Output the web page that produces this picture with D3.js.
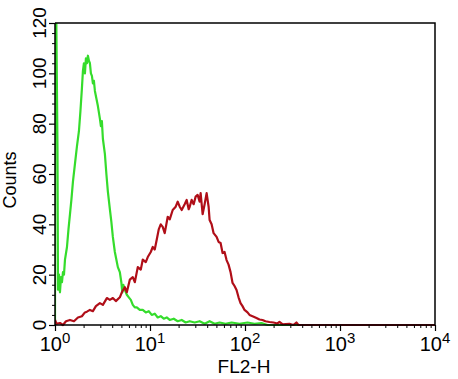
<!DOCTYPE html>
<html>
<head>
<meta charset="utf-8">
<script src="https://cdn.jsdelivr.net/npm/d3@7/dist/d3.min.js"></script>
<style>
  html, body { margin: 0; padding: 0; background: #fff; }
  svg { display: block; }
  text { font-family: "Liberation Sans", Arial, sans-serif; fill: #000; }
</style>
</head>
<body>
<svg id="chart" width="458" height="379"></svg>
<script>
// ---------- data ----------
const xTickDecades = [0, 1, 2, 3, 4];
const yTickLabels = ["0", "20", "40", "60", "80", "100", "120"];
const xLabel = "FL2-H";
const yLabel = "Counts";

// Green histogram (control)
const greenX = [1.000, 1.005, 1.030, 1.062, 1.075, 1.102, 1.128, 1.156, 1.184, 1.213, 1.243, 1.274,
  1.337, 1.386, 1.437, 1.490, 1.545, 1.622, 1.702, 1.786, 1.852, 1.920, 1.968, 2.016, 2.065, 2.116,
  2.168, 2.221, 2.275, 2.331, 2.388, 2.447, 2.506, 2.568, 2.630, 2.727, 2.828, 2.968, 3.041, 3.115,
  3.192, 3.350, 3.474, 3.602, 3.780, 3.920, 4.064, 4.266, 4.423, 4.587, 4.814, 4.991, 5.113, 5.239,
  5.433, 5.702, 5.984, 6.281, 6.592, 6.918, 7.261, 7.806, 8.395, 9.027, 9.705, 10.43, 11.22, 12.06,
  12.97, 13.95, 15.00, 16.13, 17.77, 19.57, 21.56, 23.74, 26.16, 29.51, 33.31, 37.58, 42.42, 47.86,
  54.01, 62.44, 72.20, 87.60, 106.3, 125.8, 149.1, 172.4, 10000];
const greenY = [0, 125, 125, 70, 14, 20, 13, 19, 17, 21, 20, 26,
  31, 38, 44, 50, 57, 64, 71, 77, 85, 94, 101, 104, 100, 106,
  104, 107, 105, 104, 100, 99, 96, 97, 93, 90, 87, 82, 79, 81,
  74, 68, 60, 53, 46, 41, 35, 29, 26, 23, 21, 17, 13, 16,
  14, 12, 11, 10, 8, 7, 7, 6, 6, 5, 5.5, 4, 4.5, 3,
  3.5, 2.5, 3, 2, 2.5, 1.5, 2, 1, 1.5, 1, 1.5, 0.5, 1.5, 0.5,
  1, 0.5, 1, 0.5, 1, 0.5, 0.8, 0, 0];

// Red histogram (stained)
const redX = [1.000, 1.037, 1.128, 1.213, 1.305, 1.437, 1.583, 1.744, 1.920, 2.065, 2.168, 2.331,
  2.506, 2.695, 2.968, 3.192, 3.516, 3.780, 4.064, 4.370, 4.814, 5.052, 5.433, 5.702, 6.130,
  6.592, 6.918, 7.437, 7.998, 8.395, 9.027, 9.474, 10.19, 10.69, 11.22, 11.78, 12.36, 12.97,
  13.61, 14.29, 15.37, 16.13, 17.34, 18.65, 19.57, 20.54, 21.56, 23.17, 24.32, 25.53, 26.16,
  27.45, 28.81, 30.24, 31.73, 33.31, 34.12, 35.81, 37.58, 39.45, 41.40, 42.42, 44.52, 46.72,
  50.23, 52.72, 55.34, 58.08, 60.95, 63.97, 67.14, 70.47, 73.96, 77.62, 81.47, 85.51, 89.74,
  94.19, 98.86, 106.3, 111.6, 120.0, 132.1, 142.1, 152.8, 164.2, 180.9, 199.3, 219.6, 230.5,
  247.7, 293.4, 323.3, 347.5, 364.8, 10000];
const redY = [2, 0.5, 0.8, 0, 1.5, 2, 1.5, 3, 3.5, 5, 5.3, 6,
  5.5, 7.5, 8.7, 8, 10.7, 10, 10.7, 9.5, 11, 13, 15, 13, 18,
  19, 17, 23, 22, 26, 25, 27, 29, 31, 30, 34, 38, 40,
  39, 36.5, 43, 42, 45.7, 47, 49, 47, 45.7, 48, 49.7, 46, 47,
  49.7, 48, 51, 51.7, 49, 52.4, 44, 48, 52.4, 47, 41.7, 40, 36.5,
  35, 33, 32.6, 28.6, 29, 25.8, 24, 21, 16.7, 15.5, 13.9, 11, 8.7,
  7.5, 6, 5, 4, 3.5, 2.8, 2.2, 2, 1.5, 1.2, 1, 0.6, 1.2,
  0.3, 0.5, 0, 1, 0, 0];

// ---------- layout ----------
const svg = d3.select("#chart");
const L = 55, R = 435, T = 23, B = 325;

const x = d3.scaleLog().domain([1, 10000]).range([L, R]);
const y = d3.scaleLinear().domain([0, 120]).range([B, T]);

// clip for curves
svg.append("defs").append("clipPath").attr("id", "plotclip")
  .append("rect").attr("x", L).attr("y", T).attr("width", R - L).attr("height", B - T + 2);

const line = d3.line().x(d => x(d[0])).y(d => y(d[1]));

const gCurves = svg.append("g").attr("clip-path", "url(#plotclip)");
gCurves.append("path")
  .datum(greenX.map((v, i) => [v, greenY[i]]))
  .attr("d", line).attr("fill", "none")
  .attr("stroke", "#35dc2c").attr("stroke-width", 2.2).attr("stroke-linejoin", "round");
gCurves.append("path")
  .datum(redX.map((v, i) => [v, redY[i]]))
  .attr("d", line).attr("fill", "none")
  .attr("stroke", "#b00e18").attr("stroke-width", 2.2).attr("stroke-linejoin", "round");

// frame (top and right)
svg.append("path")
  .attr("d", `M${L},${T}H${R}V${B}`)
  .attr("fill", "none").attr("stroke", "#000").attr("stroke-width", 1.5);

// ---------- y axis ----------
const yMinor = d3.range(0, 121, 4).filter(v => v % 20 !== 0);
const yAxis = d3.axisLeft(y).tickValues(yTickLabels.map(Number)).tickSize(6).tickFormat("");
const gy = svg.append("g").attr("transform", `translate(${L},0)`).call(yAxis);
gy.select(".domain").attr("stroke-width", 1.5).attr("d", `M0,${T}V${B}`);
gy.selectAll(".tick line").attr("stroke-width", 1.2);
const gyMinor = svg.append("g").attr("transform", `translate(${L},0)`)
  .call(d3.axisLeft(y).tickValues(yMinor).tickSize(3).tickFormat(""));
gyMinor.select(".domain").remove();
gyMinor.selectAll(".tick line").attr("stroke-width", 1);

// y tick labels (rotated)
yTickLabels.forEach(t => {
  const yy = Math.max(y(+t), 19);
  svg.append("text")
    .attr("transform", `translate(46,${yy}) rotate(-90)`)
    .attr("text-anchor", "middle")
    .attr("font-size", 19)
    .text(t);
});

// ---------- x axis ----------
const xMajor = xTickDecades.map(d => Math.pow(10, d));
const xMinor = [];
xTickDecades.slice(0, -1).forEach(d => {
  for (let k = 2; k <= 9; k++) xMinor.push(k * Math.pow(10, d));
});
const gx = svg.append("g").attr("transform", `translate(0,${B})`)
  .call(d3.axisBottom(x).tickValues(xMajor).tickSize(6).tickFormat(""));
gx.select(".domain").attr("stroke-width", 1.5).attr("d", `M${L},0H${R}`);
gx.selectAll(".tick line").attr("stroke-width", 1.2);
const gxMinor = svg.append("g").attr("transform", `translate(0,${B})`)
  .call(d3.axisBottom(x).tickValues(xMinor).tickSize(3).tickFormat(""));
gxMinor.select(".domain").remove();
gxMinor.selectAll(".tick line").attr("stroke-width", 1);

// x tick labels 10^n
xTickDecades.forEach(d => {
  const t = svg.append("text")
    .attr("x", x(Math.pow(10, d)))
    .attr("y", 351)
    .attr("text-anchor", "middle")
    .attr("font-size", 20);
  t.append("tspan").text("10");
  t.append("tspan").attr("font-size", 15).attr("dy", -8).text(String(d));
});

// axis titles
svg.append("text")
  .attr("x", 244).attr("y", 373)
  .attr("text-anchor", "middle").attr("font-size", 19)
  .text(xLabel);
svg.append("text")
  .attr("transform", `translate(16,180) rotate(-90)`)
  .attr("text-anchor", "middle").attr("font-size", 18)
  .text(yLabel);
</script>
</body>
</html>
